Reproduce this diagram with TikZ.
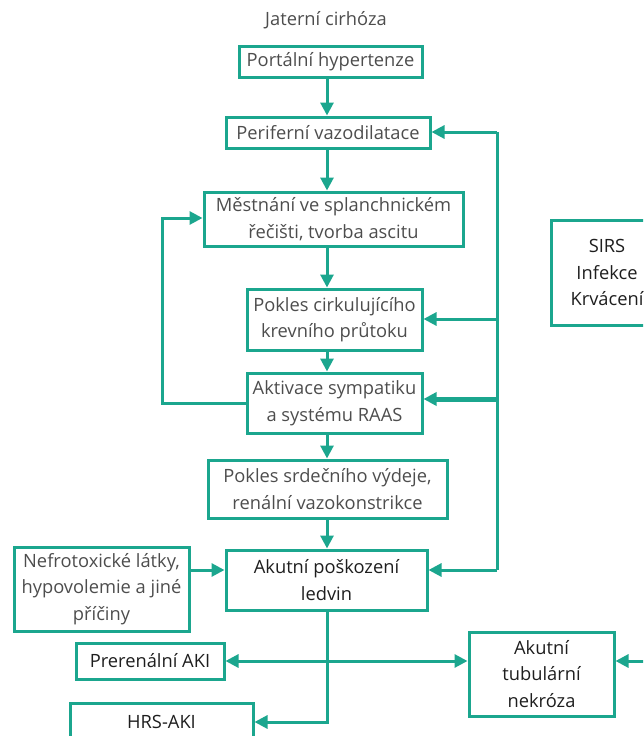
\documentclass[tikz,border=0pt]{standalone}
\usepackage{fontspec}
\setmainfont{Open Sans}
\usetikzlibrary{arrows.meta}

\definecolor{flowteal}{HTML}{1BA68E}
\definecolor{lighttext}{HTML}{4D4D4D}
\definecolor{darktext}{HTML}{1E1E1E}

\tikzset{
  labelfont/.style={font=\fontsize{18.3}{26.5}\selectfont},
  box/.style={draw=flowteal, line width=3pt, inner sep=0pt, align=center,
              text=lighttext, labelfont},
  strongbox/.style={box, text=darktext},
  link/.style={draw=flowteal, line width=3pt, -{Triangle[length=13pt,width=13pt]}},
  bothlink/.style={draw=flowteal, line width=3pt, {Triangle[length=13pt,width=13pt]}-{Triangle[length=13pt,width=13pt]}},
  plain/.style={draw=flowteal, line width=3pt},
}

\begin{document}
\begin{tikzpicture}[x=1pt, y=-1pt]
\useasboundingbox (0,0) rectangle (643,736);
\clip (0,0) rectangle (643,736);

% main chain
\node[text=lighttext, labelfont] (cirh) at (326,20) {Jaterní cirhóza};
\node[box, minimum width=183pt, minimum height=31pt] (portal) at (330.5,61.5) {Portální hypertenze};
\node[box, minimum width=204pt, minimum height=31pt] (periph) at (328,132.5) {Periferní vazodilatace};
\node[box, minimum width=259pt, minimum height=54pt] (mestn) at (333.5,219) {Městnání ve splanchnickém\\řečišti, tvorba ascitu};
\node[box, minimum width=175pt, minimum height=61pt] (pokc) at (334.5,319.5) {Pokles cirkulujícího\\krevního průtoku};
\node[box, minimum width=175pt, minimum height=60pt] (aktiv) at (334.5,403) {Aktivace sympatiku\\a systému RAAS};
\node[box, minimum width=239pt, minimum height=58pt] (poksrd) at (327.5,489) {Pokles srdečního výdeje,\\renální vazokonstrikce};
\node[strongbox, minimum width=201pt, minimum height=60pt] (aki) at (326.5,580) {Akutní poškození\\ledvin};

% side causes and outcomes
\node[box, minimum width=175pt, minimum height=84pt] (nefro) at (101.5,589) {Nefrotoxické látky,\\hypovolemie a jiné\\příčiny};
\node[strongbox, minimum width=148pt, minimum height=36pt] (prer) at (150,661) {Prerenální AKI};
\node[strongbox, minimum width=183pt, minimum height=38pt] (hrs) at (161.5,722) {HRS-AKI};
\node[strongbox, minimum width=145pt, minimum height=84pt] (atn) at (541.5,674) {Akutní\\tubulární\\nekróza};
\node[strongbox, minimum width=112pt, minimum height=105pt] (sirs) at (607,272.5) {SIRS\\Infekce\\Krvácení};

% guide coordinates
\coordinate (spine) at (327,0);
\coordinate (bus) at (497,0);
\coordinate (loopx) at (162,0);
\coordinate (offright) at (660,661);

% vertical chain
\draw[link] (portal.south -| spine) -- (periph.north -| spine);
\draw[link] (periph.south -| spine) -- (mestn.north -| spine);
\draw[link] (mestn.south -| spine) -- (pokc.north -| spine);
\draw[link] (pokc.south -| spine) -- (aktiv.north -| spine);
\draw[link] (aktiv.south -| spine) -- (poksrd.north -| spine);
\draw[link] (poksrd.south -| spine) -- (aki.north -| spine);

% feedback loop on the left
\draw[link] (aktiv.west) -- (aktiv.west -| loopx) -- (loopx |- 0,218) -- (mestn.west |- 0,218);

% right-hand bus
\draw[plain] (bus |- 0,132) -- (bus |- 0,570);
\draw[link] (bus |- 0,132) -- (periph.east |- 0,132);
\draw[link] (bus |- 0,319) -- (pokc.east |- 0,319);
\draw[link, line width=5pt] (bus |- 0,399) -- (aktiv.east |- 0,399);
\draw[link] (bus |- 0,570) -- (aki.east |- 0,570);

% other causes
\draw[link] (nefro.east |- 0,570) -- (aki.west |- 0,570);

% outcomes
\draw[link] (aki.south -| spine) -- (spine |- hrs.east) -- (hrs.east);
\draw[bothlink] (prer.east) -- (atn.west |- prer.east);
\draw[link] (offright) -- (atn.east |- offright);

\end{tikzpicture}
\end{document}
